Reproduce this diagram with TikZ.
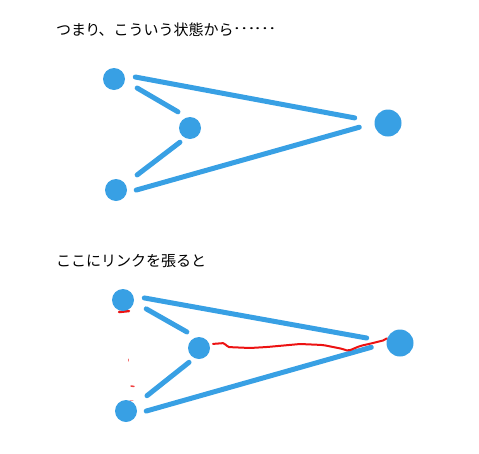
\documentclass[tikz,border=0pt]{standalone}
\usepackage{fontspec}
\usepackage{graphicx}
\usepackage{xcolor}
\usepackage{tikz}
\newfontfamily\jpfont{Noto Sans CJK JP}
\definecolor{blobblue}{RGB}{56,160,228}
\definecolor{linkred}{RGB}{236,18,18}

\tikzset{
  blob/.style={circle, fill=blobblue, inner sep=0pt, minimum size=22pt},
  bigblob/.style={blob, minimum size=27pt},
  edge/.style={draw=blobblue, line width=5pt, line cap=round},
  link/.style={draw=linkred, line width=2pt, line cap=round, line join=round},
  caption/.style={anchor=west, inner sep=0pt, font=\jpfont\fontsize{15}{18}\selectfont},
}

\begin{document}
\begin{tikzpicture}[x=1pt, y=-1pt]

\useasboundingbox (0,0) rectangle (479,453);

\node[caption] (before) at (56,30)
  {つま{\addfontfeature{RawFeature=+palt}り}、こういう状態から\scalebox{1.3}[1]{\raisebox{0.4em}{……}}};

\node[blob] (a) at (114,79) {};
\node[blob] (b) at (190,128) {};
\node[blob] (c) at (116,190) {};
\node[bigblob] (d) at (388,123) {};

\draw[edge, shorten <=11pt, shorten >=20pt] (a.21) -- (d.174);
\draw[edge, shorten <=14pt, shorten >=10.6pt] (a.-10) -- (b.105);
\draw[edge, shorten <=6.7pt, shorten >=14.8pt] (b.245) -- (c.33);
\draw[edge, shorten <=9.7pt, shorten >=15.6pt] (c.-14) -- (d.180);

\node[caption] (after) at (56,261) {ここにリンクを張ると};

%% leftovers of an erased line
\draw[link, line width=2.5pt] (119,312) -- (129,311);
\draw[link, line width=1pt, opacity=.6] (128,359) -- (128,361);
\draw[link, line width=1.5pt, opacity=.8] (131,386) -- (134,386.5);
\draw[link, line width=1pt, opacity=.4] (130,400) -- (133,400);

\begin{scope}[shift={(8,221)}]

\node[blob] (a2) at (115,79) {};
\node[blob] (b2) at (191,127) {};
\node[blob] (c2) at (118,190) {};
\node[bigblob] (d2) at (392,122) {};

\draw[edge, shorten <=11pt, shorten >=20pt] (a2.21) -- (d2.174);
\draw[edge, shorten <=14pt, shorten >=10.6pt] (a2.-10) -- (b2.105);
\draw[edge, shorten <=6.7pt, shorten >=14.8pt] (b2.245) -- (c2.33);
\draw[edge, shorten <=9.7pt, shorten >=15.6pt] (c2.-14) -- (d2.180);

\draw[link, rounded corners=2pt, shorten <=3.5pt, shorten >=1pt] (b2.20) -- (217,122) -- (219,126)
  -- (242,127) -- (259,126) -- (292,123) -- (315,124) -- (335,128) -- (340,130)
  -- (352,125) -- (365,122) -- (377,119) -- (d2.157);

\end{scope}
\end{tikzpicture}
\end{document}
